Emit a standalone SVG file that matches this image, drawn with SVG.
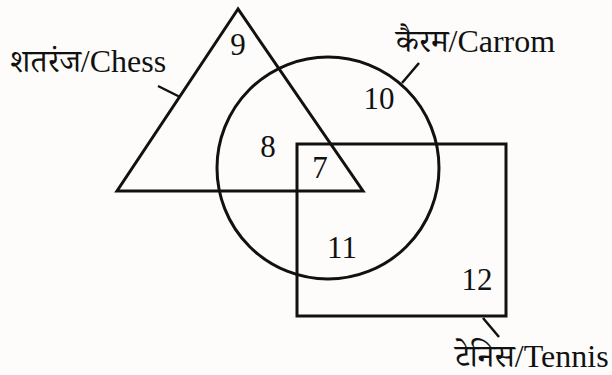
<svg xmlns="http://www.w3.org/2000/svg" width="612" height="375" viewBox="0 0 612 375">
<style>
.shape{fill:none;stroke:#111;stroke-width:3}
.lead{stroke:#111;stroke-width:2.5;fill:none}
.lbl{font-family:"Liberation Serif","Noto Serif Devanagari","Noto Sans Devanagari",serif;font-size:32px;fill:#111}
.num{font-family:"Liberation Serif",serif;font-size:31px;fill:#111;text-anchor:middle}
</style>
<rect width="612" height="375" fill="#fdfcfa"/>
<g id="chess">
<polygon class="shape" points="238,9 117,191 363,191"/>
<text class="lbl" x="10" y="72">शतरंज/Chess</text>
</g>
<g id="carrom">
<circle class="shape" cx="328" cy="168" r="111"/>
<text class="lbl" x="396" y="52">कैरम/Carrom</text>
</g>
<g id="tennis">
<rect class="shape" x="297" y="144" width="209" height="172"/>
<text class="lbl" x="455" y="367">टेनिस/Tennis</text>
</g>
<g id="regions">
<text class="num" x="238" y="55">9</text>
<text class="num" x="268" y="157">8</text>
<text class="num" x="379" y="109">10</text>
<text class="num" x="320" y="178">7</text>
<text class="num" x="342" y="258">11</text>
<text class="num" x="477" y="290">12</text>
</g>
<g id="connectors">
<line class="lead" x1="158" y1="86" x2="180" y2="97"/>
<line class="lead" x1="419" y1="63" x2="402" y2="83"/>
<line class="lead" x1="483" y1="318" x2="499" y2="337"/>
</g>
</svg>
